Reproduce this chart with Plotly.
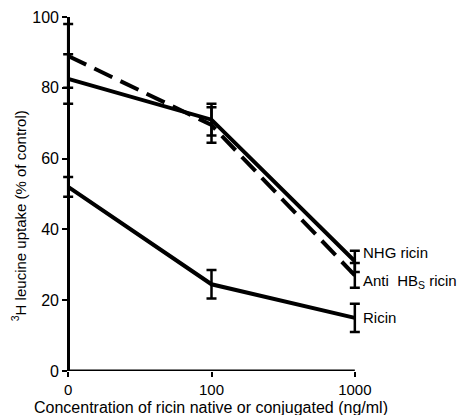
import plotly.graph_objects as go

x_labels = ["0", "100", "1000"]
x_pos = [0, 1, 2]

nhg_vals = [82.5, 71, 31]
nhg_err = [7, 4.5, 3]
anti_vals = [89, 69.5, 27]
anti_err = [9, 5, 3.5]
ricin_vals = [52, 24.5, 15]
ricin_err = [2.8, 4, 4]

series_labels = ["NHG ricin", "Anti  HB<sub>S</sub> ricin", "Ricin"]
label_y = [33.6, 25.2, 15.0]

font_fam = "Liberation Sans, Arial, sans-serif"

# layout geometry
pad = 0.05
x_min, x_max = -pad, 2 + pad
left_px, right_px = 68, 355
unit = (right_px - left_px) / 2.0
plot_w = (x_max - x_min) * unit
m_l = left_px - pad * unit
m_r = 468 - m_l - plot_w

fig = go.Figure()

def add(vals, errs, dash):
    fig.add_trace(go.Scatter(
        x=x_pos, y=vals, mode="lines",
        line=dict(color="black", width=4, dash=dash),
        error_y=dict(type="data", array=errs, visible=True, color="black",
                     thickness=2.5, width=5),
        cliponaxis=False, showlegend=False))

add(anti_vals, anti_err, "20px,9px")
add(nhg_vals, nhg_err, "solid")
add(ricin_vals, ricin_err, "solid")

for lab, yv in zip(series_labels, label_y):
    fig.add_annotation(x=2, y=yv, xref="x", yref="y", text=lab,
                       showarrow=False, xanchor="left", yanchor="middle",
                       xshift=6,
                       font=dict(size=15, color="black", family=font_fam))

# x axis line from 0 to 1000 only
fig.add_shape(type="line", xref="x", yref="y", x0=0, x1=2, y0=0, y1=0,
              line=dict(color="black", width=3))

fig.add_annotation(xref="paper", yref="paper", x=(211 - m_l) / plot_w,
                   y=(415 - 44 - 407) / (415 - 17 - 44), text=
                   "Concentration of ricin native or conjugated (ng/ml)",
                   showarrow=False, xanchor="center", yanchor="middle",
                   font=dict(size=16, color="black", family=font_fam))
fig.add_annotation(xref="paper", yref="paper", x=(18 - m_l) / plot_w,
                   y=(371 - 216) / (371 - 17), text=
                   "<sup>3</sup>H leucine uptake (% of control)",
                   showarrow=False, xanchor="center", yanchor="middle",
                   textangle=-90,
                   font=dict(size=15, color="black", family=font_fam))

fig.update_layout(
    width=468, height=415,
    margin=dict(l=m_l, r=m_r, t=17, b=44, autoexpand=False),
    paper_bgcolor="white", plot_bgcolor="white",
    font=dict(family=font_fam, color="black", size=14),
    xaxis=dict(range=[x_min, x_max], tickvals=x_pos, ticktext=x_labels,
               showgrid=False, zeroline=False, showline=False,
               ticks="outside", automargin=False,
               ticklen=5, tickwidth=2, tickcolor="black",
               tickfont=dict(size=15)),
    yaxis=dict(range=[0, 100], tickvals=[0, 20, 40, 60, 80, 100],
               anchor="free", position=pad / (x_max - x_min),
               showgrid=False, zeroline=False, showline=True,
               linecolor="black", linewidth=3, ticks="outside",
               ticklen=5, tickwidth=2, tickcolor="black", automargin=False,
               tickfont=dict(size=16)),
)

fig.write_html("out.html")
